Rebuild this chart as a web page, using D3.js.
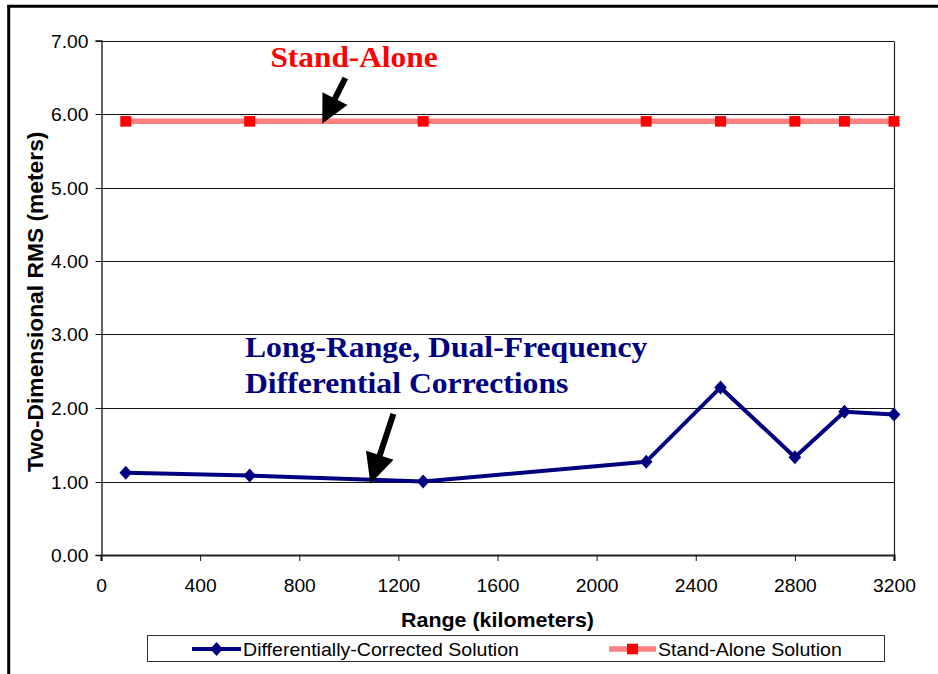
<!DOCTYPE html>
<html>
<head>
<meta charset="utf-8">
<script src="https://cdn.jsdelivr.net/npm/d3@7"></script>
<style>
  html, body { margin: 0; padding: 0; background: #fff; }
  svg { display: block; }
</style>
</head>
<body>
<svg id="chart" width="938" height="674"></svg>
<script>
// Range in kilometers and the two-dimensional RMS error (meters) for each solution
const rangeKm = [100, 600, 1300, 2200, 2500, 2800, 3000, 3200];
const diffCorrected = [1.12, 1.08, 1.00, 1.27, 2.28, 1.33, 1.95, 1.91];
const standAlone = [5.90, 5.90, 5.90, 5.90, 5.90, 5.90, 5.90, 5.90];

const xTicks = [0, 400, 800, 1200, 1600, 2000, 2400, 2800, 3200];
const yTicks = [0, 1, 2, 3, 4, 5, 6, 7];

const seriesNames = ["Differentially-Corrected Solution", "Stand-Alone Solution"];
const annotationLabels = ["Stand-Alone", "Long-Range, Dual-Frequency", "Differential Corrections"];

// Annotation arrows in data units: [tailKm, tailRms, tipKm, tipRms]
const standAloneArrow = [986, 6.49, 893, 5.87];
const longRangeArrow = [1180, 1.92, 1087, 0.97];

const svg = d3.select("#chart");
const W = 938, H = 674;
const plot = { left: 101, right: 894, top: 40.5, bottom: 555 };
const sx = 1.1; // text is set slightly wide

const x = d3.scaleLinear().domain([0, 3200]).range([plot.left, plot.right]);
const y = d3.scaleLinear().domain([0, 7]).range([plot.bottom, plot.top]);

const sans = "'Liberation Sans', Arial, sans-serif";
const serif = "'Liberation Serif', 'Times New Roman', serif";

function wideText(g, tx, ty, str) {
  return g.append("text")
    .attr("transform", `translate(${tx},${ty}) scale(${sx},1)`)
    .text(str);
}

// Outer frame (top and left edges)
svg.append("line").attr("x1", 7.5).attr("x2", W).attr("y1", 6.3).attr("y2", 6.3)
  .attr("stroke", "#000").attr("stroke-width", 3);
svg.append("line").attr("x1", 8.7).attr("x2", 8.7).attr("y1", 5).attr("y2", H)
  .attr("stroke", "#000").attr("stroke-width", 3);

// Horizontal gridlines
svg.append("g").selectAll("line").data(yTicks.slice(1)).join("line")
  .attr("x1", plot.left).attr("x2", plot.right)
  .attr("y1", d => Math.round(y(d)) + 0.5).attr("y2", d => Math.round(y(d)) + 0.5)
  .attr("stroke", "#111").attr("stroke-width", 1);

// Plot-area border on the right
svg.append("line").attr("x1", plot.right + 0.5).attr("x2", plot.right + 0.5)
  .attr("y1", Math.round(plot.top) + 0.5).attr("y2", plot.bottom)
  .attr("stroke", "#222").attr("stroke-width", 1.2);

// Y axis
const yAxis = d3.axisLeft(y).tickValues(yTicks).tickSize(6).tickFormat(d3.format(".2f"));
const gy = svg.append("g").attr("transform", `translate(${plot.left + 0.5},0)`)
  .call(yAxis);
gy.select(".domain").attr("stroke", "#111").attr("stroke-width", 1.3);
gy.selectAll(".tick line").attr("stroke", "#111")
  .attr("transform", function() { return null; });
gy.selectAll(".tick").attr("transform", d => `translate(0,${Math.round(y(d)) + 0.5})`);
gy.selectAll(".tick text").remove();
gy.selectAll(".tick").each(function(d) {
  const t = wideText(d3.select(this), -13, 6.5, d3.format(".2f")(d));
  t.attr("text-anchor", "end").attr("font-family", sans).attr("font-size", 17.5).attr("fill", "#000");
});

// X axis
const xAxis = d3.axisBottom(x).tickValues(xTicks).tickSize(6).tickFormat(d3.format("d"));
const gx = svg.append("g").attr("transform", `translate(0,${plot.bottom})`).call(xAxis);
gx.select(".domain").attr("stroke", "#222").attr("stroke-width", 2.2);
gx.selectAll(".tick line").attr("stroke", "#111");
gx.selectAll(".tick text").remove();
gx.selectAll(".tick").each(function(d) {
  const t = wideText(d3.select(this), 0, 37, String(d));
  t.attr("text-anchor", "middle").attr("font-family", sans).attr("font-size", 17.5).attr("fill", "#000");
});

// Axis titles
wideText(svg, (plot.left + plot.right) / 2, 627, "Range (kilometers)")
  .attr("text-anchor", "middle").attr("font-family", sans).attr("font-weight", "bold")
  .attr("font-size", 19.5).attr("fill", "#000");
svg.append("text")
  .attr("transform", `translate(42.5,${(plot.top + plot.bottom) / 2 + 4}) rotate(-90)`)
  .attr("text-anchor", "middle").attr("font-family", sans).attr("font-weight", "bold")
  .attr("font-size", 22.8).attr("fill", "#000")
  .text("Two-Dimensional RMS (meters)");

// Series
const standData = rangeKm.map((r, i) => ({ r, v: standAlone[i] }));
const diffData = rangeKm.map((r, i) => ({ r, v: diffCorrected[i] }));
const line = d3.line().x(d => x(d.r)).y(d => y(d.v));

svg.append("path").datum(standData).attr("d", line)
  .attr("fill", "none").attr("stroke", "#ff8080").attr("stroke-width", 5.5);
svg.append("g").selectAll("rect").data(standData).join("rect")
  .attr("x", d => x(d.r) - 5.5).attr("y", d => y(d.v) - 5.3)
  .attr("width", 11).attr("height", 10.6).attr("fill", "#ff0000");

svg.append("path").datum(diffData).attr("d", line)
  .attr("fill", "none").attr("stroke", "#000080").attr("stroke-width", 4)
  .attr("stroke-linejoin", "round");
const diamond = "M0,-7 L6.3,0 L0,7 L-6.3,0 Z";
svg.append("g").selectAll("path").data(diffData).join("path")
  .attr("d", diamond)
  .attr("transform", d => `translate(${x(d.r)},${y(d.v)})`)
  .attr("fill", "#000080");

// Annotation arrows
function arrow(a, headLen, headHalf, shaftHalf) {
  const x0 = x(a[0]), y0 = y(a[1]), x1 = x(a[2]), y1 = y(a[3]);
  const dx = x1 - x0, dy = y1 - y0, L = Math.hypot(dx, dy);
  const ux = dx / L, uy = dy / L, px = -uy, py = ux;
  const bx = x1 - ux * headLen, by = y1 - uy * headLen;
  const pts = [
    [x0 + px * shaftHalf, y0 + py * shaftHalf],
    [bx + px * shaftHalf, by + py * shaftHalf],
    [bx + px * headHalf, by + py * headHalf],
    [x1, y1],
    [bx - px * headHalf, by - py * headHalf],
    [bx - px * shaftHalf, by - py * shaftHalf],
    [x0 - px * shaftHalf, y0 - py * shaftHalf]
  ];
  svg.append("polygon").attr("points", pts.map(p => p.join(",")).join(" ")).attr("fill", "#000");
}
arrow(standAloneArrow, 28, 14, 3);
arrow(longRangeArrow, 30, 14.5, 3);

// Annotation labels
wideText(svg, 354, 67, annotationLabels[0])
  .attr("text-anchor", "middle").attr("font-family", serif).attr("font-weight", "bold")
  .attr("font-size", 28.5).attr("fill", "#ff0000");
wideText(svg, 245, 357, annotationLabels[1])
  .attr("font-family", serif).attr("font-weight", "bold")
  .attr("font-size", 28.8).attr("fill", "#000080");
wideText(svg, 245, 393, annotationLabels[2])
  .attr("font-family", serif).attr("font-weight", "bold")
  .attr("font-size", 28.8).attr("fill", "#000080");

// Legend
const lg = svg.append("g");
lg.append("rect").attr("x", 147.5).attr("y", 635.5).attr("width", 737).attr("height", 26)
  .attr("fill", "#fff").attr("stroke", "#333").attr("stroke-width", 1);
const ly = 649;
lg.append("line").attr("x1", 192).attr("x2", 241).attr("y1", ly).attr("y2", ly)
  .attr("stroke", "#000080").attr("stroke-width", 4);
lg.append("path").attr("d", diamond).attr("transform", `translate(216.5,${ly})`).attr("fill", "#000080");
wideText(lg, 243, ly + 6.5, seriesNames[0])
  .attr("font-family", sans).attr("font-size", 17.8).attr("fill", "#000");
lg.append("line").attr("x1", 609).attr("x2", 656).attr("y1", ly).attr("y2", ly)
  .attr("stroke", "#ff8080").attr("stroke-width", 5.5);
lg.append("rect").attr("x", 627).attr("y", ly - 5.3).attr("width", 11).attr("height", 10.6).attr("fill", "#ff0000");
wideText(lg, 658, ly + 6.5, seriesNames[1])
  .attr("font-family", sans).attr("font-size", 17.8).attr("fill", "#000");
</script>
</body>
</html>
